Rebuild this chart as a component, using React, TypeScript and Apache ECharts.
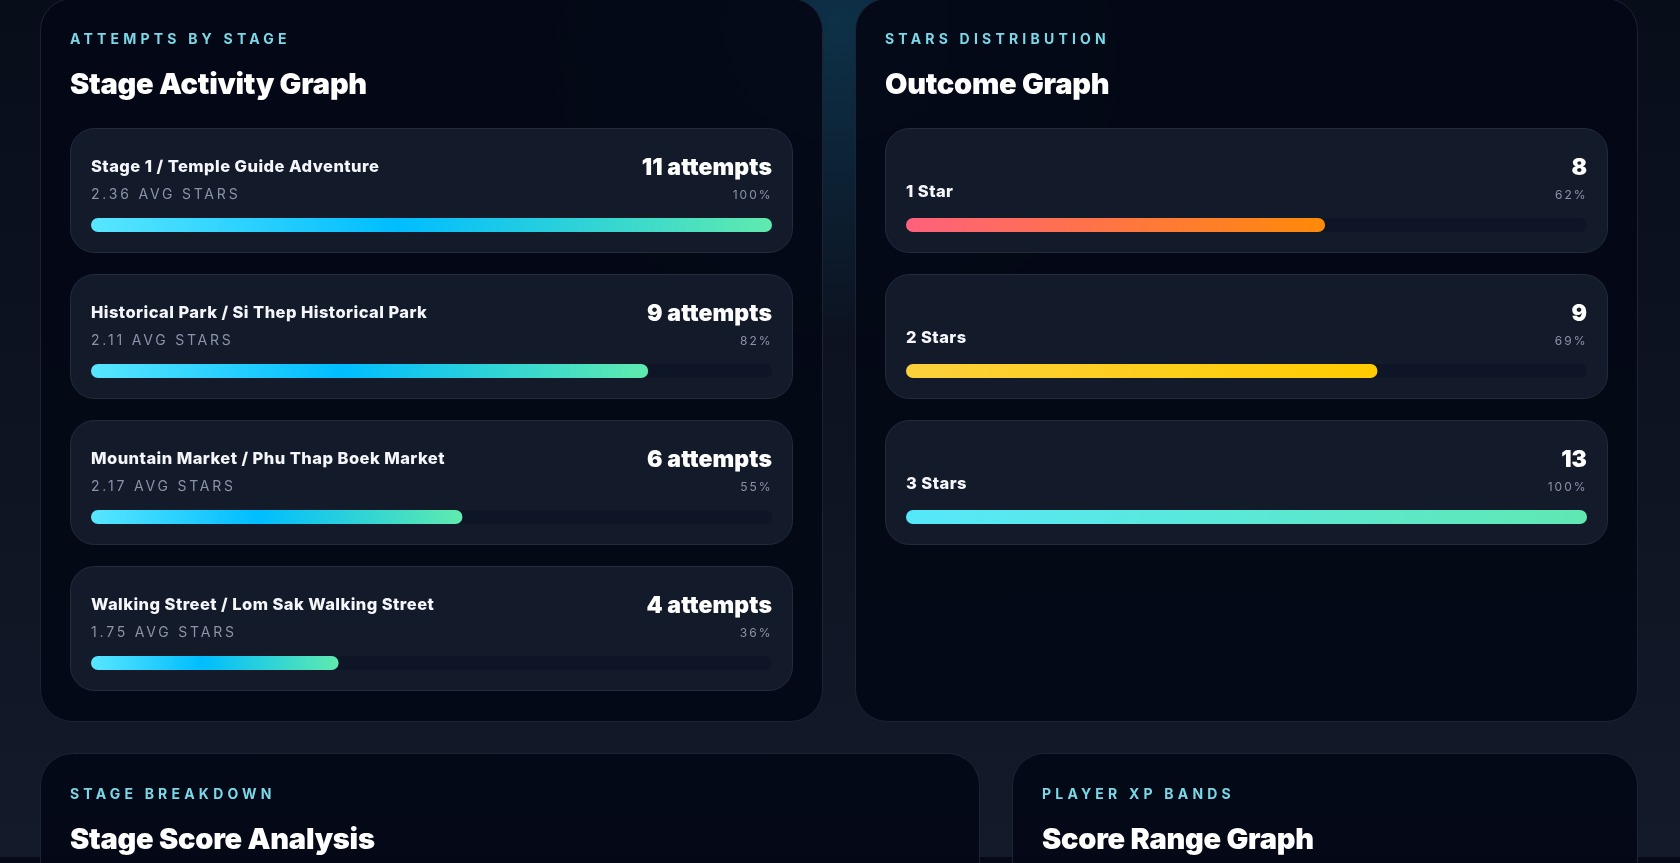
import React, { useEffect, useRef } from "react";
import * as echarts from "echarts";

// ---------- data ----------
const stageNames = [
  "Stage 1 / Temple Guide Adventure",
  "Historical Park / Si Thep Historical Park",
  "Mountain Market / Phu Thap Boek Market",
  "Walking Street / Lom Sak Walking Street",
];
const stageAttempts = [11, 9, 6, 4];
const stageAvgStars = [2.36, 2.11, 2.17, 1.75];

const starLabels = ["1 Star", "2 Stars", "3 Stars"];
const starCounts = [8, 9, 13];

const panelEyebrows = ["ATTEMPTS BY STAGE", "STARS DISTRIBUTION", "STAGE BREAKDOWN", "PLAYER XP BANDS"];
const panelTitles = ["Stage Activity Graph", "Outcome Graph", "Stage Score Analysis", "Score Range Graph"];

// ---------- styling ----------
const FONT = "Inter, 'Noto Sans', sans-serif";
const W = 1680;
const H = 863;

const stageGradient = [
  { offset: 0, color: "#58e6ff" },
  { offset: 0.45, color: "#00bdff" },
  { offset: 1, color: "#5feaae" },
];
const starGradients = [
  [
    { offset: 0, color: "#ff617c" },
    { offset: 1, color: "#ff8a08" },
  ],
  [
    { offset: 0, color: "#fcd03c" },
    { offset: 1, color: "#ffcc00" },
  ],
  [
    { offset: 0, color: "#55e8fa" },
    { offset: 1, color: "#60e8b2" },
  ],
];

const panels = [
  { x: 40, y: -2, w: 783, h: 724 },
  { x: 855, y: -2, w: 783, h: 724 },
  { x: 40, y: 753, w: 940, h: 200 },
  { x: 1012, y: 753, w: 626, h: 200 },
];

const CARD_Y0 = 128;
const CARD_STEP = 146;
const CARD_H = 125;
const CARD_W = 723;

export default function App() {
  const ref = useRef<HTMLDivElement>(null);

  useEffect(() => {
    document.body.style.margin = "0";
    const el = ref.current!;
    const chart = echarts.init(el, null, { renderer: "svg", width: W, height: H });

    const spacing: Record<string, number> = {};
    const elements: any[] = [];

    // page background
    elements.push({
      type: "rect",
      shape: { x: 0, y: 0, width: W, height: H },
      style: {
        fill: new echarts.graphic.LinearGradient(0, 0, 0, 1, [
          { offset: 0, color: "#080d1a" },
          { offset: 1, color: "#131a29" },
        ]),
      },
      z: -10,
    });
    elements.push({
      type: "circle",
      shape: { cx: 838, cy: 20, r: 320 },
      style: {
        fill: new echarts.graphic.RadialGradient(0.5, 0.5, 0.5, [
          { offset: 0, color: "rgba(18,78,110,0.55)" },
          { offset: 1, color: "rgba(18,78,110,0)" },
        ]),
      },
      z: -9,
    });
    elements.push({
      type: "rect",
      shape: { x: 0, y: 857, width: W, height: 6 },
      style: { fill: "#060a16" },
      z: -8,
    });

    // panels
    panels.forEach((p, i) => {
      elements.push({
        type: "rect",
        shape: { x: p.x + 0.5, y: p.y + 0.5, width: p.w - 1, height: p.h - 1, r: 32 },
        style: { fill: "rgba(4,8,22,0.95)", stroke: "#1b2335", lineWidth: 1 },
        z: -5,
      });
      elements.push({
        type: "text",
        x: p.x + 30,
        y: p.y + 40.5,
        style: {
          text: panelEyebrows[i],
          fill: "#7ad8e7",
          font: `700 14px ${FONT}`,
          textAlign: "left",
          textVerticalAlign: "middle",
        },
        z: 5,
      });
      spacing[panelEyebrows[i]] = 4.2;
      elements.push({
        type: "text",
        x: p.x + 30,
        y: p.y + 85,
        style: {
          text: panelTitles[i],
          fill: "#ffffff",
          font: `900 29px ${FONT}`,
          textAlign: "left",
          textVerticalAlign: "middle",
        },
        z: 5,
      });
      spacing[panelTitles[i]] = -0.25;
    });

    const addCard = (cx: number, cy: number) => {
      elements.push({
        type: "rect",
        shape: { x: cx + 0.5, y: cy + 0.5, width: CARD_W - 1, height: CARD_H - 1, r: 24 },
        style: { fill: "#131a2a", stroke: "#232b3d", lineWidth: 1 },
        z: -3,
      });
    };

    const maxAttempts = Math.max(...stageAttempts);
    const maxStars = Math.max(...starCounts);

    const PCT_LS = 2;
    const PCT_RIGHT = 22.5;

    // left cards
    stageNames.forEach((name, i) => {
      const cx = panels[0].x + 30;
      const cy = CARD_Y0 + CARD_STEP * i;
      addCard(cx, cy);
      spacing[name] = 0.45;
      elements.push({
        type: "text",
        x: cx + 21,
        y: cy + 38,
        style: { text: name, fill: "#f4f6fa", font: `800 16.5px ${FONT}`, textAlign: "left", textVerticalAlign: "middle" },
        z: 5,
      });
      const sub = `${stageAvgStars[i].toFixed(2)} AVG STARS`;
      spacing[sub] = 2.8;
      elements.push({
        type: "text",
        x: cx + 21,
        y: cy + 65,
        style: { text: sub, fill: "#8a94a8", font: `400 14px ${FONT}`, textAlign: "left", textVerticalAlign: "middle" },
        z: 5,
      });
      const num = `${stageAttempts[i]} attempts`;
      spacing[num] = 0.1;
      elements.push({
        type: "text",
        x: cx + CARD_W - 21 + 0.1,
        y: cy + 39,
        style: { text: num, fill: "#ffffff", font: `900 23px ${FONT}`, textAlign: "right", textVerticalAlign: "middle" },
        z: 5,
      });
      const pct = `${Math.round((stageAttempts[i] / maxAttempts) * 100)}%`;
      spacing[pct] = PCT_LS;
      elements.push({
        type: "text",
        x: cx + CARD_W - PCT_RIGHT + PCT_LS,
        y: cy + 66,
        style: { text: pct, fill: "#8a94a8", font: `400 12px ${FONT}`, textAlign: "right", textVerticalAlign: "middle" },
        z: 5,
      });
    });

    // right cards
    starLabels.forEach((label, i) => {
      const cx = panels[1].x + 30;
      const cy = CARD_Y0 + CARD_STEP * i;
      addCard(cx, cy);
      spacing[label] = 0.45;
      elements.push({
        type: "text",
        x: cx + 21,
        y: cy + 63,
        style: { text: label, fill: "#f4f6fa", font: `800 16.5px ${FONT}`, textAlign: "left", textVerticalAlign: "middle" },
        z: 5,
      });
      const num = `${starCounts[i]}`;
      elements.push({
        type: "text",
        x: cx + CARD_W - 21,
        y: cy + 39,
        style: { text: num, fill: "#ffffff", font: `900 23px ${FONT}`, textAlign: "right", textVerticalAlign: "middle" },
        z: 5,
      });
      const pct = `${Math.round((starCounts[i] / maxStars) * 100)}%`;
      spacing[pct] = PCT_LS;
      elements.push({
        type: "text",
        x: cx + CARD_W - PCT_RIGHT + PCT_LS,
        y: cy + 66,
        style: { text: pct, fill: "#8a94a8", font: `400 12px ${FONT}`, textAlign: "right", textVerticalAlign: "middle" },
        z: 5,
      });
    });

    const barTopOffset = 90;
    const barH = 14;
    const gridTop = CARD_Y0 + barTopOffset + barH / 2 - CARD_STEP / 2;

    const option: any = {
      animation: false,
      grid: [
        { left: panels[0].x + 51, top: gridTop, width: 681, height: CARD_STEP * stageNames.length, containLabel: false },
        { left: panels[1].x + 51, top: gridTop, width: 681, height: CARD_STEP * starLabels.length, containLabel: false },
      ],
      xAxis: [
        { gridIndex: 0, type: "value", min: 0, max: maxAttempts, show: false },
        { gridIndex: 1, type: "value", min: 0, max: maxStars, show: false },
      ],
      yAxis: [
        { gridIndex: 0, type: "category", data: stageNames, inverse: true, show: false },
        { gridIndex: 1, type: "category", data: starLabels, inverse: true, show: false },
      ],
      series: [
        {
          type: "bar",
          xAxisIndex: 0,
          yAxisIndex: 0,
          barWidth: barH,
          showBackground: true,
          backgroundStyle: { color: "#0e1526", borderRadius: barH / 2 },
          itemStyle: { borderRadius: barH / 2 },
          silent: true,
          data: stageAttempts.map((v) => ({
            value: v,
            itemStyle: { color: new echarts.graphic.LinearGradient(0, 0, 1, 0, stageGradient) },
          })),
        },
        {
          type: "bar",
          xAxisIndex: 1,
          yAxisIndex: 1,
          barWidth: barH,
          showBackground: true,
          backgroundStyle: { color: "#0e1526", borderRadius: barH / 2 },
          itemStyle: { borderRadius: barH / 2 },
          silent: true,
          data: starCounts.map((v, i) => ({
            value: v,
            itemStyle: { color: new echarts.graphic.LinearGradient(0, 0, 1, 0, starGradients[i]) },
          })),
        },
      ],
      graphic: { elements },
    };

    chart.setOption(option);

    const applySpacing = () => {
      el.querySelectorAll("text").forEach((t) => {
        const s = spacing[t.textContent || ""];
        if (s !== undefined) (t as SVGTextElement).style.letterSpacing = `${s}px`;
      });
    };
    applySpacing();
    const raf = requestAnimationFrame(applySpacing);
    const to = setTimeout(applySpacing, 50);

    return () => {
      cancelAnimationFrame(raf);
      clearTimeout(to);
      chart.dispose();
    };
  }, []);

  return (
    <div
      ref={ref}
      style={{ position: "fixed", left: 0, top: 0, width: W, height: H, overflow: "hidden" }}
    />
  );
}
